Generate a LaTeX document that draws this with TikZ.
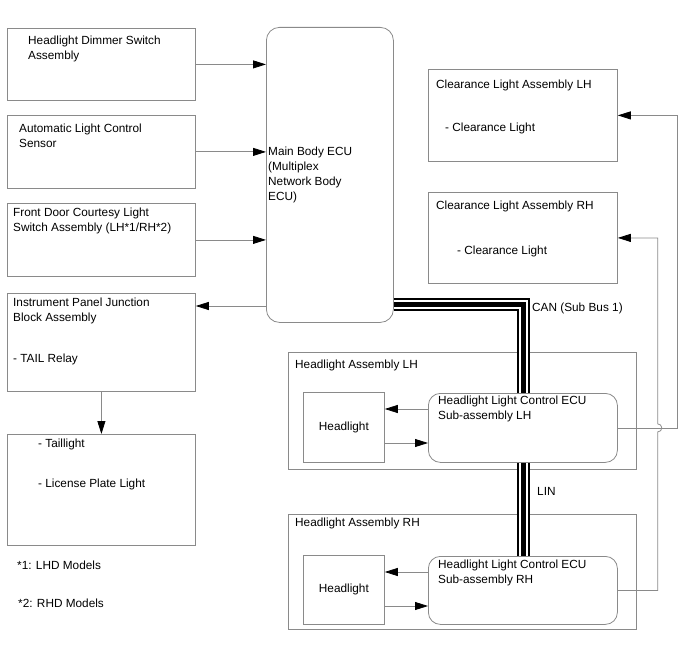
\documentclass[tikz,border=0pt]{standalone}
\usepackage{fontspec}
\setmainfont{Liberation Sans}
\usetikzlibrary{arrows.meta,positioning,calc}
\definecolor{lineGray}{HTML}{8A8A8A}

\begin{document}
\begin{tikzpicture}[x=1pt,y=-1pt,
  font=\fontsize{11.8}{14.5}\selectfont,
  blk/.style={draw=lineGray, line width=0.8pt, anchor=north west, inner sep=0pt},
  rblk/.style={blk, rounded corners=13pt},
  txt/.style={anchor=north west, inner sep=0pt, align=left},
  arr/.style={draw=lineGray, line width=0.8pt, -{Triangle[length=13pt,width=8pt,black]}},
  bus/.style={line width=13pt, black,
    postaction={draw, white, line width=9pt},
    postaction={draw, black, line width=5pt}}]
  \useasboundingbox (0,0) rectangle (688,658);

  % left column
  \node[blk, minimum width=188, minimum height=72] (dimmer) at (7,28) {};
  \node[blk, minimum width=188, minimum height=73] (autolight) at (7,115) {};
  \node[blk, minimum width=188, minimum height=73] (courtesy) at (7,203) {};
  \node[blk, minimum width=188, minimum height=98] (junction) at (7,293) {};
  \node[blk, minimum width=188, minimum height=111] (tail) at (7,434) {};
  \node[txt] (dimmerTxt) at (28,36) {Headlight Dimmer Switch\\Assembly};
  \node[txt] (autolightTxt) at (19,124) {Automatic Light Control\\Sensor};
  \node[txt] (courtesyTxt) at (13,208) {Front Door Courtesy Light\\Switch Assembly (LH*1/RH*2)};
  \node[txt] (junctionTxt) at (13,298) {Instrument Panel Junction\\Block Assembly};
  \node[txt] (relayTxt) at (13,354) {- TAIL Relay};
  \node[txt] (tailTxt) at (38,439) {- Taillight};
  \node[txt] (plateTxt) at (38,479) {- License Plate Light};
  \node[txt] (noteA) at (17,561) {*1: LHD Models};
  \node[txt] (noteB) at (18,599) {*2: RHD Models};

  % main body ECU
  \node[rblk, minimum width=127, minimum height=295] (mainecu) at (266,27) {};
  \node[txt, font=\fontsize{11.8}{15}\selectfont] (mainTxt) at (268,147) {Main Body ECU\\(Multiplex\\Network Body\\ECU)};

  % clearance lights
  \node[blk, minimum width=189, minimum height=92] (clrlh) at (428,69) {};
  \node[blk, minimum width=189, minimum height=91] (clrrh) at (428,192) {};
  \node[txt] (clrlhTxt) at (436,80) {Clearance Light Assembly LH};
  \node[txt] (clrlhSub) at (445,123) {- Clearance Light};
  \node[txt] (clrrhTxt) at (436,201) {Clearance Light Assembly RH};
  \node[txt] (clrrhSub) at (457,246) {- Clearance Light};

  % headlight assemblies
  \node[blk, minimum width=348, minimum height=117] (hlassyL) at (288,352) {};
  \node[txt] (hlassyLTxt) at (295,360) {Headlight Assembly LH};
  \node[blk, minimum width=81, minimum height=70] (hlL) at (303,392) {Headlight};
  \node[rblk, rounded corners=12pt, minimum width=189, minimum height=69] (ecuL) at (428,393) {};
  \node[txt] (ecuLTxt) at (438,396) {Headlight Light Control ECU\\Sub-assembly LH};

  \node[blk, minimum width=348, minimum height=115] (hlassyR) at (288,514) {};
  \node[txt] (hlassyRTxt) at (295,518) {Headlight Assembly RH};
  \node[blk, minimum width=81, minimum height=69] (hlR) at (303,555) {Headlight};
  \node[rblk, rounded corners=12pt, minimum width=189, minimum height=68] (ecuR) at (428,556) {};
  \node[txt] (ecuRTxt) at (438,560) {Headlight Light Control ECU\\Sub-assembly RH};

  % signal lines
  \draw[arr] (dimmer.east) -- (dimmer.east -| mainecu.west);
  \draw[arr] (autolight.east) -- (autolight.east -| mainecu.west);
  \draw[arr] (courtesy.east) -- (courtesy.east -| mainecu.west);
  \draw[arr] (mainecu.west |- 0,306) -- (junction.east |- 0,306);
  \draw[arr] (junction.south) -- (tail.north);
  \draw[arr] (ecuL.west |- 0,409) -- (hlL.east |- 0,409);
  \draw[arr] (hlL.east |- 0,443) -- (ecuL.west |- 0,443);
  \draw[arr] (ecuR.west |- 0,572) -- (hlR.east |- 0,572);
  \draw[arr] (hlR.east |- 0,606) -- (ecuR.west |- 0,606);
  \draw[arr] (ecuL.east) -- ++(60,0) |- (clrlh.east);
  \draw[arr] (ecuR.east) -- ++(40,0) -- ++(0,-158.5)
    arc[start angle=90, end angle=-90, radius=4] |- (clrrh.east); % hop over LH line

  % CAN and LIN
  \draw[bus] (mainecu.east |- 0,304.5) -| (ecuL.north -| 523,0);
  \draw[bus] (ecuL.south -| 523,0) -- (ecuR.north -| 523,0);
  \node[txt] (canTxt) at (532,303) {CAN (Sub Bus 1)};
  \node[txt] (linTxt) at (537,487) {LIN};
\end{tikzpicture}
\end{document}
